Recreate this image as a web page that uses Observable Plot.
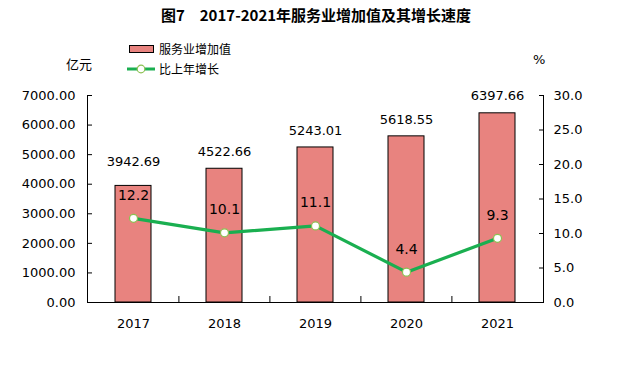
<!DOCTYPE html>
<html><head><meta charset="utf-8">
<script src="https://cdn.jsdelivr.net/npm/d3@7"></script>
<script src="https://cdn.jsdelivr.net/npm/@observablehq/plot@0.6"></script>
<style>
body{margin:0;background:#fff;}
#wrap{position:relative;width:625px;height:376px;overflow:hidden;font-family:"DejaVu Sans",sans-serif;color:#000;}
#wrap svg.plot{position:absolute;left:0;top:0;}
.abs{position:absolute;white-space:nowrap;}
#title{left:0;width:632px;top:5px;text-align:center;font-family:"Noto Sans CJK SC",sans-serif;font-weight:bold;font-size:15px;line-height:20px;}
.leg{font-family:"Noto Sans CJK SC",sans-serif;font-size:12px;line-height:14px;}
.unit{font-family:"Noto Sans CJK SC",sans-serif;font-size:13px;line-height:16px;}
</style></head><body>
<div id="wrap">
<div id="chart"></div>
<div id="title" class="abs">图7　2017-2021年服务业增加值及其增长速度</div>
<div class="abs" style="left:129px;top:45px;width:23px;height:6px;background:#E8837F;border:1px solid #000;"></div>
<div class="abs leg" style="left:159px;top:42px;">服务业增加值</div>
<svg class="abs" style="left:125px;top:62px;" width="32" height="14"><line x1="2" y1="7" x2="30" y2="7" stroke="#1AAF50" stroke-width="3"/><circle cx="16" cy="7" r="3.8" fill="#fff" stroke="#8CC152" stroke-width="1.2"/></svg>
<div class="abs leg" style="left:159px;top:62px;">比上年增长</div>
<div class="abs unit" style="left:66px;top:56px;">亿元</div>
<div class="abs unit" style="left:533px;top:52px;font-family:'DejaVu Sans',sans-serif;">%</div>
</div>
<script>
const years = ["2017", "2018", "2019", "2020", "2021"];
const values = [3942.69, 4522.66, 5243.01, 5618.55, 6397.66];
const growth = [12.2, 10.1, 11.1, 4.4, 9.3];
const leftTicks = [0, 1000, 2000, 3000, 4000, 5000, 6000, 7000];
const rightTicks = [0, 5, 10, 15, 20, 25, 30];

const leftMax = 7000, rightMax = 30;
const k = leftMax / rightMax;
const data = years.map((y, i) => ({year: y, value: values[i], growth: growth[i]}));
const rightData = rightTicks.map(v => v * k);

const chart = Plot.plot({
  width: 625,
  height: 376,
  marginTop: 95,
  marginBottom: 74,
  marginLeft: 87,
  marginRight: 82,
  style: {fontFamily: "DejaVu Sans, sans-serif", fontSize: "13px", color: "#000", background: "transparent"},
  x: {domain: years, paddingInner: 0.6, paddingOuter: 0.3, axis: null},
  y: {domain: [0, leftMax], axis: null},
  marks: [
    Plot.barY(data, {x: "year", y: "value", fill: "#E8837F", stroke: "#000", strokeWidth: 1}),
    Plot.frame({anchor: "left", stroke: "#000"}),
    Plot.frame({anchor: "right", stroke: "#000"}),
    Plot.frame({anchor: "bottom", stroke: "#000"}),
    Plot.axisY(leftTicks, {anchor: "left", label: null, tickFormat: d => d.toFixed(2), tickSize: -5, tickPadding: 17, fontSize: 13, fill: "#000", stroke: "#000"}),
    Plot.axisY(rightData, {anchor: "right", label: null, tickFormat: d => (d / k).toFixed(1), tickSize: -5, tickPadding: 15, fontSize: 13, fill: "#000", stroke: "#000"}),
    Plot.axisX({label: null, tickSize: 0, tickPadding: 16, fontSize: 13, fill: "#000"}),
    Plot.ruleX(years.slice(1), {x: d => d, y1: 0, y2: leftMax * 6 / 207, dx: -45.6, stroke: "#000", strokeWidth: 1, clip: false}),
    Plot.text(data.filter(d => d.year !== "2017"), {x: "year", y: "value", text: d => d.value.toFixed(2), dy: -17, fontSize: 13, fill: "#000"}),
    Plot.text(data.filter(d => d.year === "2017"), {x: "year", y: "value", text: d => d.value.toFixed(2), dy: -24, fontSize: 13, fill: "#000"}),
    Plot.line(data, {x: "year", y: d => d.growth * k, stroke: "#1AAF50", strokeWidth: 3.2}),
    Plot.dot(data, {x: "year", y: d => d.growth * k, r: 4, fill: "#fff", stroke: "#8CC152", strokeWidth: 1.2}),
    Plot.text(data, {x: "year", y: d => d.growth * k, text: d => d.growth.toFixed(1), dy: -23, fontSize: 14, fill: "#000"})
  ]
});
chart.classList.add("plot");
document.getElementById("chart").appendChild(chart);
</script>
</body></html>
